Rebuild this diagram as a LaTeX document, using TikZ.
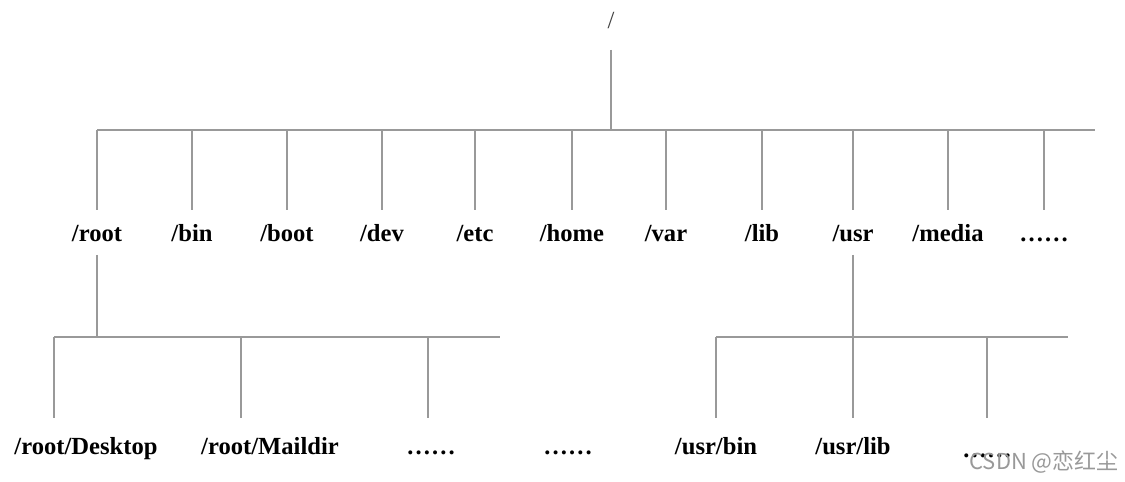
\documentclass[tikz,border=0pt]{standalone}
\usepackage{fontspec}
\setmainfont{Liberation Serif}
\newfontfamily\cjkfont{Noto Sans CJK SC}
\usepackage{tikz}
\usetikzlibrary{positioning,calc}

\begin{document}
\begin{tikzpicture}[x=0.02cm,y=-0.02cm,
 dir/.style={font=\fontsize{14}{16}\selectfont\bfseries,anchor=base,inner sep=0pt},
 branch/.style={draw=black!40,line width=1pt}]
\useasboundingbox (0,0) rectangle (1125,482);
% ---------- root of the tree
\node[font=\fontsize{14}{16}\selectfont,text=black!75,inner sep=0pt] (top) at (611,21){/};
\coordinate (busA) at (97,130);
\coordinate (busB) at (1095,130);
\coordinate (lvlA) at (0,210);
\draw[branch] (busA) -- (busB);
\draw[branch] (top |- 0,50) -- (top |- busA);
% ---------- first level
\foreach \n/\x in {root/97,bin/192,boot/287,dev/382,etc/475,home/572,var/666,lib/762,usr/853,media/948}{
 \node[dir] (\n) at (\x,242){/\n};
 \draw[branch] (\n |- busA) -- (\n |- lvlA);}
\node[dir] (more) at (1044,242){……};
\draw[branch] (more |- busA) -- (more |- lvlA);
% ---------- below /root
\coordinate (lvlB) at (0,255);
\coordinate (lvlC) at (0,418);
\coordinate (busC) at (54,337);
\coordinate (busD) at (500,337);
\draw[branch] (busC) -- (busD);
\draw[branch] (root |- lvlB) -- (root |- busC);
\node[dir] (desk) at (86,455){/root/Desktop};
\node[dir] (mail) at (270,455){/root/Maildir};
\node[dir] (rmore) at (431,455){……};
\coordinate (deskup) at (54,418);
\coordinate (mailup) at (241,418);
\coordinate (rmoreup) at (428,418);
\foreach \c in {deskup,mailup,rmoreup}
 \draw[branch] (\c |- busC) -- (\c);
\node[dir] (mid) at (568,455){……};
% ---------- below /usr
\coordinate (busE) at (716,337);
\coordinate (busF) at (1068,337);
\draw[branch] (busE) -- (busF);
\draw[branch] (usr |- lvlB) -- (usr |- busE);
\node[dir] (ubin) at (716,455){/usr/bin};
\node[dir] (ulib) at (853,455){/usr/lib};
\node[dir] (umore) at (987,458){……};
\foreach \n in {ubin,ulib,umore}
 \draw[branch] (\n |- busE) -- (\n |- lvlC);
% ---------- watermark
\node[font=\cjkfont\fontsize{12.5}{14}\selectfont,text=black!40,anchor=base,inner sep=0pt] (mark) at (1044,469){CSDN @恋红尘};
\end{tikzpicture}
\end{document}
